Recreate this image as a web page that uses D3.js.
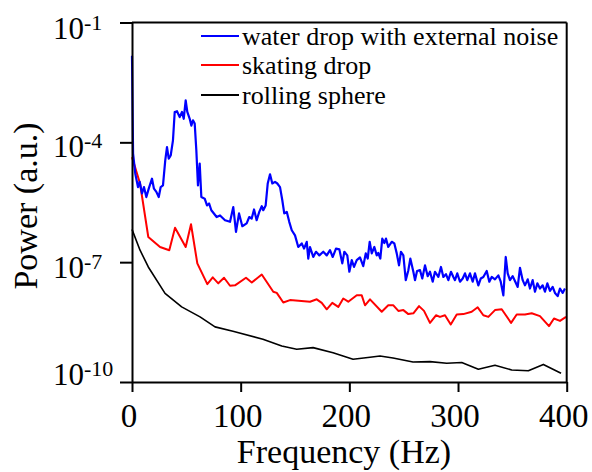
<!DOCTYPE html>
<html><head><meta charset="utf-8">
<script src="https://cdn.jsdelivr.net/npm/d3@7"></script>
<style>body{margin:0;background:#fff}svg{display:block}</style>
</head><body><svg id="c" width="592" height="472" font-family="'Liberation Serif', 'Times New Roman', Times, 'DejaVu Serif', serif"></svg>
<script>
// Series: frequency (Hz) and log10 of power (a.u.)
const blueFreq = [0,1,3,5.5,7.1,9.2,11,13.2,15.4,18.4,20.2,22.4,24.6,26.4,28.5,30.6,32.2,33.8,35.6,37.7,39.3,41.4,43.9,46,47.6,49.4,50.9,53.1,54.6,56.1,57.7,59.2,60.7,62.3,63.8,66.9,69,70.9,73,77.9,81,85.6,90.2,93.2,95.7,98.5,101.5,105.5,107.9,110.1,112.3,114.7,117.1,119.4,120.8,123,124.9,127,129.1,131.6,133.7,136.2,138.3,140.1,142.4,144.7,147,150,153,156.2,158.3,160.8,162.2,163.8,166.8,169.3,172.4,176,179.2,182.2,184.7,187.7,190.8,193.5,195.4,198.1,200,202.2,204.3,206.8,209.8,212.8,215.1,216.9,218.7,220.6,223,225.2,226.6,228.5,230.3,232.2,233.7,235.8,239,241.4,243.6,245.7,247.5,249.7,251.9,254.3,256.1,258.9,260.4,262.3,265,267.1,269.6,272.1,274.2,276.7,278.8,281.9,284.3,286.5,288.9,291.1,293.5,295.7,297.2,299.3,301.8,304.3,306.4,308.5,311,313.5,315.6,318.7,320.9,323.3,326.4,328.8,331,334,337.1,339.3,341.7,343.9,345.7,347.8,350.3,352.7,354.9,357,359.5,361.6,364.1,366.2,368.7,370.8,373,375.4,377.9,380,382.2,384.6,387.1,389.2,391.7,393.8,396.3,398.4];
const blueLogPower = [-1.83,-4.28,-4.78,-5.12,-4.99,-5.28,-5.12,-5.37,-5.16,-4.91,-5.16,-5.24,-5.37,-5.12,-5.08,-4.45,-4.12,-4.41,-4.33,-3.95,-3.24,-3.22,-3.37,-3.24,-3.41,-2.95,-3.24,-3.41,-3.58,-3.45,-3.53,-4.2,-5.08,-4.53,-5.37,-5.41,-5.58,-5.53,-5.7,-5.87,-5.83,-5.95,-5.99,-5.62,-6.24,-5.78,-6.1,-6.03,-5.87,-5.91,-5.68,-5.95,-5.74,-5.6,-5.7,-5.58,-5.03,-4.8,-5.03,-4.99,-5.03,-5.12,-5.45,-5.78,-5.74,-5.99,-6.2,-6.33,-6.62,-6.53,-6.66,-6.49,-6.91,-6.62,-6.87,-6.74,-6.83,-6.74,-6.83,-6.7,-6.87,-6.66,-6.68,-7.03,-6.74,-6.83,-7.24,-6.95,-7.12,-6.95,-6.88,-7.1,-6.78,-6.91,-6.49,-6.78,-6.62,-6.83,-6.77,-6.91,-6.41,-6.52,-6.41,-6.62,-6.49,-6.53,-6.78,-7.08,-6.74,-6.83,-7.45,-7.2,-6.91,-7.24,-7.45,-7.22,-7.2,-7.41,-7.08,-7.35,-7.24,-7.49,-7.24,-7.37,-7.12,-7.37,-7.3,-7.45,-7.24,-7.37,-7.45,-7.28,-7.49,-7.41,-7.28,-7.45,-7.28,-7.49,-7.28,-7.58,-7.41,-7.37,-7.22,-7.49,-7.37,-7.43,-7.33,-7.49,-7.83,-6.87,-7.28,-7.45,-7.35,-7.49,-7.62,-7.14,-7.45,-7.58,-7.43,-7.66,-7.45,-7.74,-7.53,-7.66,-7.58,-7.74,-7.53,-7.72,-7.62,-7.77,-7.85,-7.66,-7.77,-7.66];

const redFreq = [0,7.4,15,25.8,34.3,39.6,49.4,54.3,60.1,69.3,74.3,79.4,84.7,90.2,94.8,104.9,110.2,119.4,130,133.2,139.2,145.4,163.8,170,174.6,179.2,184.3,189.8,194.4,199,206.8,211.4,214.4,219,229.8,235.8,240.5,245.1,249.7,254.3,258.9,264.1,268.7,274.2,279.7,283.4,288,293.3,298.8,304.9,312.6,318.1,323.3,327.9,334,340.2,348.8,354,361.6,367.8,375.4,383.7,388.3,393.8,399.4];
const redLogPower = [-4.37,-5.03,-6.37,-6.62,-6.7,-6.14,-6.62,-6.05,-7.03,-7.55,-7.38,-7.53,-7.39,-7.59,-7.58,-7.39,-7.51,-7.31,-7.74,-7.77,-8.01,-7.95,-7.99,-7.93,-8.02,-8.18,-8.02,-8.12,-7.91,-7.99,-7.83,-7.83,-8.08,-7.93,-8.24,-8.08,-8.08,-8.22,-8.2,-8.3,-8.28,-8.1,-8.22,-8.52,-8.33,-8.37,-8.33,-8.56,-8.31,-8.3,-8.24,-8.13,-8.33,-8.37,-8.2,-8.18,-8.52,-8.31,-8.31,-8.28,-8.35,-8.6,-8.41,-8.47,-8.37];

const blackFreq = [0,7.4,15,30.4,45.7,62.6,76.4,92.9,120.5,137.8,151.6,166.6,185,203.4,219,228.2,240.2,258.6,274.2,289.6,303.4,318.7,334,349.4,364.7,378.5,394.8];
const blackLogPower = [-6.18,-6.7,-7.12,-7.78,-8.12,-8.37,-8.62,-8.73,-8.93,-9.1,-9.18,-9.14,-9.27,-9.43,-9.38,-9.35,-9.4,-9.5,-9.49,-9.53,-9.51,-9.68,-9.58,-9.7,-9.72,-9.56,-9.78];

const seriesNames = ["water drop with external noise","skating drop","rolling sphere"];
const seriesColors = ["#0000ff","#ff0000","#000000"];
const xTicks = [0,100,200,300,400];
const yTickExponents = [-1,-4,-7,-10];
const xTitle = "Frequency (Hz)";
const yTitle = "Power (a.u.)";

const svg = d3.select("#c");
const FONT = "'Liberation Serif', 'Times New Roman', Times, 'DejaVu Serif', serif";
const L=132, R=566.7, T=22.5, B=382;
const x = d3.scaleLinear().domain([0,400]).range([L,R]);
const y = d3.scaleLog().domain([1e-10,1e-1]).range([B,T]);

const mk = (fs, ls) => fs.map((f,i)=>({f, p: Math.pow(10, ls[i])}));
const series = [
  {data: mk(blueFreq, blueLogPower), w: 2.2},
  {data: mk(redFreq, redLogPower), w: 2},
  {data: mk(blackFreq, blackLogPower), w: 1.6}
];
const line = d3.line().x(d=>x(d.f)).y(d=>y(d.p));
[2,1,0].forEach(i=>{
  svg.append("path").datum(series[i].data).attr("d", line)
    .attr("fill","none").attr("stroke", seriesColors[i])
    .attr("stroke-width", series[i].w).attr("stroke-linejoin","round");
});

// frame
svg.append("line").attr("x1",L).attr("x2",R).attr("y1",T).attr("y2",T).attr("stroke","#000").attr("stroke-width",2);
svg.append("line").attr("x1",R).attr("x2",R).attr("y1",T).attr("y2",B).attr("stroke","#000").attr("stroke-width",2);

// axes
const xAxis = svg.append("g").attr("transform",`translate(0,${B})`)
  .call(d3.axisBottom(x).tickValues(xTicks).tickSize(10).tickSizeOuter(0).tickFormat(""));
const yAxis = svg.append("g").attr("transform",`translate(${L},0)`)
  .call(d3.axisLeft(y).tickValues(yTickExponents.map(e=>Math.pow(10,e))).tickSize(12).tickSizeOuter(0).tickFormat(""));
[xAxis,yAxis].forEach(g=>{
  g.selectAll("path,line").attr("stroke","#000").attr("stroke-width",2);
});

const txt = (sel)=>sel.append("text").attr("font-family",FONT).attr("fill","#000");

// x tick labels
xTicks.forEach(d=>{
  txt(svg).attr("x", x(d)-3).attr("y", 427).attr("text-anchor","middle")
    .attr("font-size",33).text(d);
});

// y tick labels with superscripts
const yOff = [16,15,16,3];
yTickExponents.forEach((e,i)=>{
  const t = txt(svg).attr("x",53).attr("y", y(Math.pow(10,e))+yOff[i]).attr("font-size",31);
  t.append("tspan").text("10");
  t.append("tspan").attr("font-size",22).attr("dy",-9).text("-"+Math.abs(e));
});

// axis titles
txt(svg).attr("x",344).attr("y",463).attr("text-anchor","middle").attr("font-size",34).text(xTitle);
txt(svg).attr("transform","translate(37,206) rotate(-90)").attr("text-anchor","middle").attr("font-size",34).text(yTitle);

// legend
const legY = [36,65,95];
seriesNames.forEach((n,i)=>{
  svg.append("line").attr("x1",201).attr("x2",239).attr("y1",legY[i]).attr("y2",legY[i])
    .attr("stroke",seriesColors[i]).attr("stroke-width",2.2);
  txt(svg).attr("x",242).attr("y",legY[i]+9).attr("font-size",26).text(n);
});
</script></body></html>
